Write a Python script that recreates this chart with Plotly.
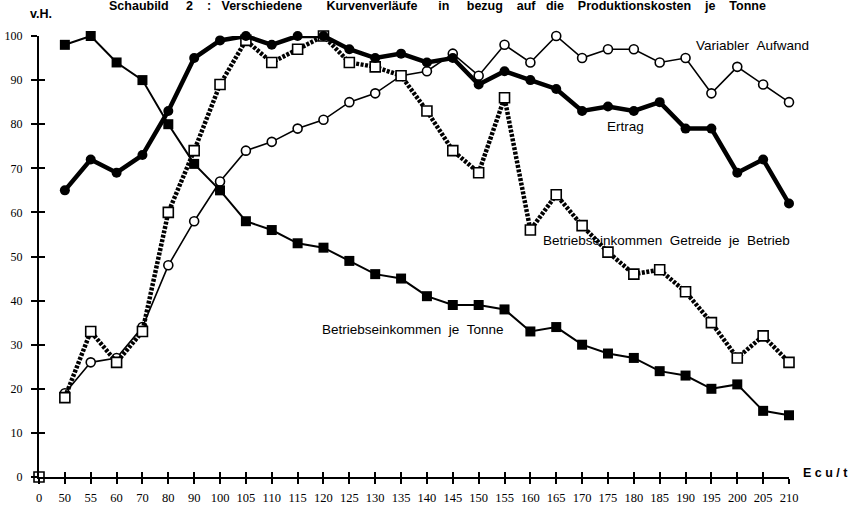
import plotly.graph_objects as go

categories = ["0", "50", "55", "60", "70", "80", "90", "100", "105", "110", "115", "120",
              "125", "130", "135", "140", "145", "150", "155", "160", "165", "170", "175",
              "180", "185", "190", "195", "200", "205", "210"]

# series values for categories 50 ... 210 (index 1..29)
betrieb_je_tonne = [98, 100, 94, 90, 80, 71, 65, 58, 56, 53, 52, 49, 46, 45, 41, 39, 39, 38,
                    33, 34, 30, 28, 27, 24, 23, 20, 21, 15, 14]
ertrag = [65, 72, 69, 73, 83, 95, 99, 100, 98, 100, 100, 97, 95, 96, 94, 95, 89, 92,
          90, 88, 83, 84, 83, 85, 79, 79, 69, 72, 62]
variabler_aufwand = [19, 26, 27, 34, 48, 58, 67, 74, 76, 79, 81, 85, 87, 91, 92, 96, 91, 98,
                     94, 100, 95, 97, 97, 94, 95, 87, 93, 89, 85]
getreide_je_betrieb = [18, 33, 26, 33, 60, 74, 89, 99, 94, 97, 100, 94, 93, 91, 83, 74, 69, 86,
                       56, 64, 57, 51, 46, 47, 42, 35, 27, 32, 26]
origin_value = [0]

y_ticks = [0, 10, 20, 30, 40, 50, 60, 70, 80, 90, 100]

xi = list(range(1, len(categories)))

fig = go.Figure()

fig.add_trace(go.Scatter(
    x=xi, y=variabler_aufwand, mode="lines+markers", name="Variabler Aufwand",
    line=dict(color="black", width=1.6),
    marker=dict(symbol="circle", size=9, color="white", line=dict(color="black", width=1.6)),
    cliponaxis=False, showlegend=False))

fig.add_trace(go.Scatter(
    x=xi, y=getreide_je_betrieb, mode="lines+markers", name="Betriebseinkommen Getreide je Betrieb",
    line=dict(color="black", width=4.5, dash="3px,1.5px"),
    marker=dict(symbol="square", size=10, color="white", line=dict(color="black", width=1.6)),
    cliponaxis=False, showlegend=False))

fig.add_trace(go.Scatter(
    x=xi, y=ertrag, mode="lines+markers", name="Ertrag",
    line=dict(color="black", width=4.5),
    marker=dict(symbol="circle", size=10, color="black"),
    cliponaxis=False, showlegend=False))

fig.add_trace(go.Scatter(
    x=xi, y=betrieb_je_tonne, mode="lines+markers", name="Betriebseinkommen je Tonne",
    line=dict(color="black", width=2),
    marker=dict(symbol="square", size=10, color="black"),
    cliponaxis=False, showlegend=False))

fig.add_trace(go.Scatter(
    x=[0], y=origin_value, mode="markers",
    marker=dict(symbol="square", size=10, color="white", line=dict(color="black", width=1.6)),
    cliponaxis=False, showlegend=False))

serif = "Liberation Serif, Times New Roman, serif"
sans = "Liberation Sans, Arial, sans-serif"

L, T, W, H = 39, 36, 750, 441

fig.update_layout(
    width=855, height=509,
    margin=dict(l=L, r=855 - L - W, t=T, b=509 - T - H),
    paper_bgcolor="white", plot_bgcolor="white",
    xaxis=dict(range=[0, 29], tickmode="array", tickvals=list(range(len(categories))),
               ticktext=categories, showline=True, linecolor="black", linewidth=2,
               ticks="outside", ticklen=5, tickwidth=1.5, tickcolor="black",
               tickfont=dict(family=serif, size=12.5, color="black"),
               ticklabelstandoff=3, automargin=False,
               showgrid=False, zeroline=False, fixedrange=True),
    xaxis2=dict(range=[0, 29], overlaying="x", tickmode="array",
                tickvals=list(range(len(categories))), showticklabels=False,
                ticks="inside", ticklen=5, tickwidth=1.5, tickcolor="black",
                showgrid=False, zeroline=False, showline=False, side="bottom",
                automargin=False),
    yaxis=dict(range=[0, 100], tickmode="array", tickvals=y_ticks,
               ticktext=[str(v) for v in y_ticks], showline=True, linecolor="black",
               linewidth=2, ticks="outside", ticklen=6, tickwidth=1.5, tickcolor="black",
               tickfont=dict(family=serif, size=12, color="black"),
               ticklabelstandoff=6, automargin=False,
               showgrid=False, zeroline=False),
    yaxis2=dict(range=[0, 100], overlaying="y", tickmode="array", tickvals=y_ticks,
                showticklabels=False, ticks="inside", ticklen=6, tickwidth=1.5,
                tickcolor="black", showgrid=False, zeroline=False, showline=False,
                side="left", automargin=False),
)

# invisible trace to activate the secondary (inner tick) axes
fig.add_trace(go.Scatter(x=[None], y=[None], xaxis="x2", yaxis="y2",
                         showlegend=False, hoverinfo="skip"))


def px_x(v):
    return (v - L) / W


def px_y(v):
    return 1 - (v - T) / H


labels = [
    ("Variabler  Aufwand", 694, 46),
    ("Ertrag", 605, 127),
    ("Betriebseinkommen  Getreide  je  Betrieb", 541, 240),
    ("Betriebseinkommen  je  Tonne", 320, 329),
]
for txt, lx, ly in labels:
    fig.add_annotation(text=txt.replace("  ", "&nbsp;&nbsp;"), xref="paper", yref="paper",
                       x=px_x(lx), y=px_y(ly), xanchor="left", yanchor="middle",
                       showarrow=False,
                       font=dict(family=sans, size=13.5, color="black"))

sp = lambda n: "&nbsp;" * n
title = ("Schaubild" + sp(5) + "2" + sp(4) + ":" + sp(3) + "Verschiedene" + sp(7)
         + "Kurvenverläufe" + sp(6) + "in" + sp(5) + "bezug" + sp(4) + "auf" + sp(3)
         + "die" + sp(4) + "Produktionskosten" + sp(4) + "je" + sp(4) + "Tonne")
fig.add_annotation(text="<b>" + title + "</b>", xref="paper", yref="paper",
                   x=px_x(107), y=px_y(6), xanchor="left", yanchor="middle",
                   showarrow=False, font=dict(family=sans, size=12.5, color="black"))
fig.add_annotation(text="<b>v.H.</b>", xref="paper", yref="paper",
                   x=px_x(28), y=px_y(14), xanchor="left", yanchor="middle",
                   showarrow=False, font=dict(family=sans, size=12.5, color="black"))
fig.add_annotation(text="<b>E c u / t</b>", xref="paper", yref="paper",
                   x=px_x(801), y=px_y(473), xanchor="left", yanchor="middle",
                   showarrow=False, font=dict(family=sans, size=12.5, color="black"))

fig.write_html("out.html", config={"displayModeBar": False},
               post_script="document.body.style.margin='0';")
